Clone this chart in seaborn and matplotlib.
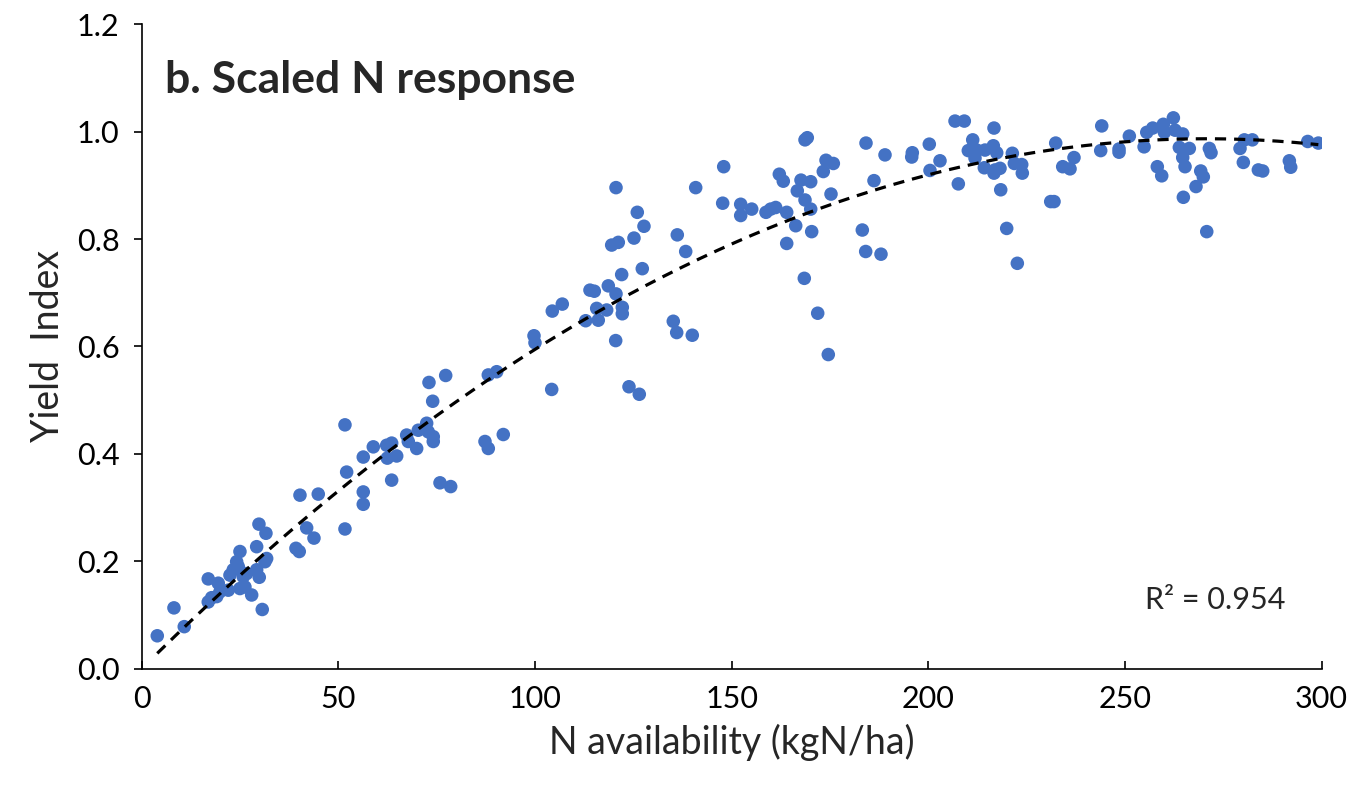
import matplotlib
matplotlib.use('Agg')
import matplotlib.pyplot as plt
import seaborn as sns
import numpy as np
import pandas as pd

# N availability (kgN/ha)
n_avail = [
    3.97, 8.21, 10.83, 16.93, 16.93, 17.80, 19.07, 19.48, 19.91, 22.02,
    22.45, 23.29, 24.15, 24.99, 24.56, 24.99, 25.83, 26.26, 26.70, 27.97,
    29.24, 29.24, 29.82, 29.90, 30.66, 31.35, 31.60, 31.78, 39.23, 40.07,
    41.95, 43.81, 40.25, 44.90, 51.69, 51.69, 52.12, 56.34, 56.34, 56.34,
    58.89, 62.29, 63.56, 62.45, 64.84, 63.56, 67.38, 67.79, 69.92, 70.33,
    72.46, 72.87, 74.14, 74.14, 73.99, 73.05, 77.30, 75.85, 78.57, 87.29,
    88.13, 91.94, 88.13, 90.26, 99.75, 100.0, 104.25, 104.40, 106.94, 112.89,
    115.69, 116.09, 118.23, 120.52, 122.20, 122.20, 123.90, 126.52, 113.98, 115.08,
    118.64, 120.60, 122.04, 127.28, 119.50, 121.18, 125.17, 127.71, 126.01, 120.60,
    140.86, 147.98, 147.72, 152.30, 152.30, 155.10, 136.18, 138.32, 135.16, 136.03,
    139.99, 158.73, 159.93, 161.20, 164.00, 162.12, 163.13, 167.63, 166.69, 170.10,
    168.65, 170.10, 166.29, 170.35, 164.00, 168.65, 169.23, 173.99, 175.85, 173.30,
    175.26, 168.47, 171.88, 174.57, 184.16, 188.99, 195.93, 195.78, 186.19, 183.22,
    184.08, 187.97, 200.25, 202.97, 200.43, 207.63, 206.79, 209.15, 216.70, 211.29,
    210.17, 211.87, 212.30, 214.41, 216.53, 217.39, 214.24, 216.96, 218.23, 216.70,
    221.36, 221.87, 223.75, 223.90, 218.41, 219.93, 222.63, 231.12, 231.96, 232.39,
    234.17, 236.03, 237.04, 244.09, 243.83, 248.49, 248.49, 251.11, 254.86, 255.54,
    257.06, 259.75, 260.01, 262.30, 262.73, 264.68, 263.82, 266.36, 264.68, 265.27,
    258.22, 259.34, 269.26, 269.92, 268.06, 264.84, 270.79, 271.45, 271.88, 279.25,
    280.35, 282.38, 280.09, 283.91, 285.02, 291.79, 292.14, 296.47, 299.16,
]

# yield index, same order
yield_index = [
    0.061, 0.113, 0.078, 0.167, 0.124, 0.132, 0.134, 0.159, 0.143, 0.146,
    0.174, 0.184, 0.199, 0.218, 0.190, 0.149, 0.171, 0.152, 0.177, 0.137,
    0.227, 0.184, 0.269, 0.170, 0.110, 0.199, 0.252, 0.205, 0.224, 0.218,
    0.262, 0.243, 0.323, 0.325, 0.260, 0.454, 0.366, 0.329, 0.306, 0.394,
    0.413, 0.416, 0.420, 0.392, 0.396, 0.351, 0.435, 0.423, 0.410, 0.444,
    0.457, 0.441, 0.432, 0.423, 0.498, 0.533, 0.546, 0.346, 0.339, 0.423,
    0.410, 0.436, 0.547, 0.553, 0.620, 0.607, 0.520, 0.666, 0.679, 0.648,
    0.671, 0.649, 0.668, 0.611, 0.673, 0.661, 0.525, 0.511, 0.705, 0.703,
    0.713, 0.698, 0.734, 0.745, 0.789, 0.794, 0.802, 0.824, 0.850, 0.896,
    0.896, 0.935, 0.867, 0.865, 0.844, 0.856, 0.808, 0.777, 0.647, 0.626,
    0.621, 0.850, 0.856, 0.859, 0.850, 0.921, 0.908, 0.910, 0.890, 0.907,
    0.873, 0.856, 0.825, 0.814, 0.792, 0.985, 0.989, 0.947, 0.941, 0.926,
    0.884, 0.727, 0.662, 0.585, 0.979, 0.957, 0.961, 0.953, 0.909, 0.817,
    0.777, 0.772, 0.977, 0.946, 0.928, 0.903, 1.020, 1.020, 1.007, 0.985,
    0.965, 0.951, 0.966, 0.966, 0.974, 0.961, 0.933, 0.929, 0.932, 0.923,
    0.960, 0.941, 0.939, 0.923, 0.892, 0.820, 0.755, 0.870, 0.870, 0.979,
    0.935, 0.931, 0.952, 1.011, 0.965, 0.968, 0.962, 0.992, 0.972, 0.999,
    1.007, 1.014, 0.999, 1.026, 1.003, 0.996, 0.971, 0.969, 0.952, 0.935,
    0.935, 0.918, 0.927, 0.916, 0.898, 0.878, 0.814, 0.969, 0.961, 0.969,
    0.985, 0.985, 0.943, 0.929, 0.927, 0.946, 0.934, 0.982, 0.979,
]

# 2nd order trendline as drawn in the chart (c0 + c1*x + c2*x^2)
trend_coef = [-0.0005, 0.0073, -1.349e-5]
r2_label = "R² = 0.954"

x_ticks = [0, 50, 100, 150, 200, 250, 300]
y_ticks = [0.0, 0.2, 0.4, 0.6, 0.8, 1.0, 1.2]

df = pd.DataFrame({"n": n_avail, "y": yield_index})

# trendline spans the data range
trend = pd.DataFrame({"n": np.linspace(min(n_avail), max(n_avail), 200)})
trend["y"] = np.polyval(trend_coef[::-1], trend["n"])

sns.set_style("white")
plt.rcParams['font.family'] = ['Lato', 'DejaVu Sans']

fig = plt.figure(figsize=(13.7, 7.97), dpi=100)
ax = fig.add_axes([0.1034, 0.1612, 0.8613, 0.8081])

sns.scatterplot(data=df, x="n", y="y", color="#4472C4", s=95,
                edgecolor="none", ax=ax, zorder=2)
sns.lineplot(data=trend, x="n", y="y", color="black", lw=2.3,
             ls=(0, (3.5, 2.5)), ax=ax, zorder=3)

ax.set_xlim(0, 300)
ax.set_ylim(0, 1.2)
ax.set_xticks(x_ticks)
ax.set_yticks(y_ticks)
ax.set_yticklabels([f"{v:.1f}" for v in y_ticks])
ax.tick_params(axis="x", direction="in", length=6, width=1.2, labelsize=22, pad=12, colors="black")
ax.tick_params(axis="y", direction="out", length=6, width=1.2, labelsize=22, pad=10, colors="black")
ax.tick_params(bottom=True, left=True)

for side in ["top", "right"]:
    ax.spines[side].set_visible(False)
for side in ["left", "bottom"]:
    ax.spines[side].set_color("black")
    ax.spines[side].set_linewidth(1.2)

ax.set_xlabel("N availability (kgN/ha)", fontsize=27, labelpad=8)
ax.set_ylabel("Yield  Index", fontsize=27, labelpad=8)

ax.text(0.02, 0.914, "b. Scaled N response", transform=ax.transAxes,
        fontsize=32, fontweight="bold", va="center", ha="left")
ax.text(0.91, 0.106, r2_label, transform=ax.transAxes,
        fontsize=22, va="center", ha="center")

plt.savefig("out.png", dpi=100)
plt.close()
